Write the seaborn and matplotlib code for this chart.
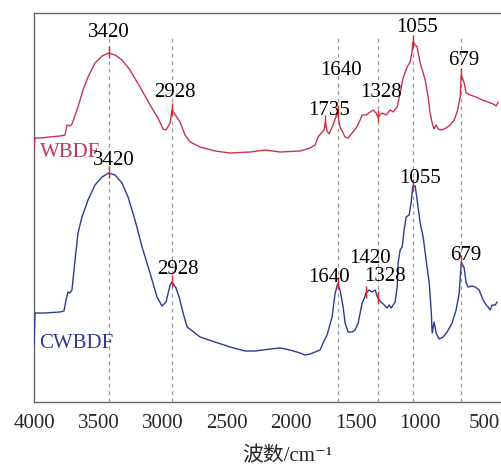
"""
FTIR spectra of WBDF and CWBDF, stacked, with the main absorption peaks marked.
"""

import numpy as np
import pandas as pd
import matplotlib
matplotlib.use('Agg')
import matplotlib.pyplot as plt
import seaborn as sns

# ---- data (wavenumber in cm-1, arbitrary intensity) ----
wbdf_wn = [4000, 3992, 3953, 3876, 3798, 3759, 3743, 3720, 3705, 3658, 3619, 3580,
           3526, 3471, 3420, 3370, 3316, 3254, 3176, 3098, 3036, 2997, 2974, 2942,
           2928, 2896, 2865, 2826, 2787, 2709, 2593, 2476, 2320, 2204, 2087, 1932,
           1854, 1815, 1792, 1768, 1745, 1735, 1722, 1706, 1675, 1640, 1621, 1582,
           1558, 1527, 1496, 1465, 1449, 1418, 1387, 1364, 1341, 1328, 1294, 1263,
           1232, 1208, 1177, 1154, 1131, 1100, 1076, 1062, 1055, 1022, 998, 959,
           936, 921, 905, 890, 874, 858, 835, 796, 765, 734, 711, 687, 679, 656,
           641, 610, 563, 516, 470, 431, 407, 392]
wbdf_int = [252, 264, 264, 265, 266, 267, 277, 276, 278, 295, 312, 325,
            339, 346, 349, 347, 342, 332, 315, 297, 284, 273, 272, 279,
            292, 286, 280, 267, 260, 255, 251, 249, 250, 252, 250, 251,
            254, 257, 265, 269, 272, 280, 271, 268, 277, 290, 275, 265,
            264, 269, 274, 282, 287, 287, 290, 292, 289, 285, 289, 287,
            292, 290, 295, 309, 324, 335, 340, 350, 360, 355, 339, 322,
            305, 289, 279, 273, 277, 273, 272, 274, 277, 282, 290, 305, 327, 319,
            309, 307, 305, 302, 300, 298, 296, 300]

cwbdf_wn = [4000, 3992, 3914, 3798, 3767, 3751, 3736, 3720, 3705, 3681, 3658, 3627,
            3580, 3526, 3471, 3420, 3370, 3316, 3269, 3215, 3160, 3098, 3044, 3005,
            2974, 2942, 2928, 2896, 2872, 2841, 2810, 2709, 2593, 2476, 2359, 2281,
            2165, 2087, 2009, 1932, 1893, 1854, 1815, 1776, 1753, 1722, 1683, 1659,
            1640, 1621, 1597, 1582, 1558, 1527, 1504, 1480, 1465, 1449, 1432, 1420,
            1395, 1372, 1348, 1328, 1302, 1278, 1255, 1240, 1224, 1208, 1193, 1177,
            1170, 1154, 1138, 1123, 1107, 1084, 1069, 1055, 1037, 1022, 998, 975,
            952, 928, 913, 905, 890, 874, 851, 820, 789, 750, 719, 695, 679, 656,
            641, 625, 594, 571, 540, 509, 485, 470, 454, 439, 415, 400]
cwbdf_int = [57, 89, 89, 90, 91, 102, 110, 109, 112, 142, 169, 185,
             202, 217, 225, 229, 227, 219, 205, 182, 155, 129, 105, 96,
             100, 117, 120, 114, 105, 89, 75, 65, 60, 55, 51, 51,
             53, 54, 52, 49, 47, 48, 50, 52, 59, 67, 85, 109,
             118, 112, 95, 79, 70, 70, 72, 79, 89, 99, 104, 109,
             112, 110, 112, 104, 100, 97, 94, 97, 94, 97, 100, 115,
             139, 152, 155, 172, 185, 187, 199, 216, 216, 202, 179, 165,
             142, 119, 92, 69, 80, 69, 63, 65, 70, 79, 92, 109, 140, 134,
             119, 115, 116, 115, 112, 102, 97, 95, 92, 97, 97, 100]

guide_wn = [3420, 2928, 1640, 1328, 1055, 679]

# peak labels: text, x of label centre, y of label baseline
wbdf_peaks = [3420, 2928, 1735, 1640, 1328, 1055, 679]
wbdf_lab_x = [3417, 2904, 1706, 1613, 1302, 1022, 656]
wbdf_lab_y = [365, 305, 287, 327, 305, 370, 337]

cwbdf_peaks = [3420, 2928, 1640, 1420, 1328, 1055, 679]
cwbdf_lab_x = [3378, 2880, 1706, 1387, 1271, 998, 641]
cwbdf_lab_y = [237, 128, 120, 139, 121, 219, 142]

RED = '#c8344f'
BLUE = '#2e3b8f'

sns.set_style('white')
plt.rcParams['font.family'] = ['Liberation Serif', 'Noto Sans CJK SC', 'DejaVu Serif']

fig = plt.figure(figsize=(5.01, 4.67), dpi=100)
ax = fig.add_axes([34 / 501, 65 / 467, 467 / 501, 389 / 467])

# dashed guide lines behind everything
ax.vlines(guide_wn, 0, 366, colors='#9a9a9a', linestyles=(0, (3, 3)), linewidth=0.9, zorder=1)

df = pd.concat([
    pd.DataFrame({'wn': wbdf_wn, 'I': wbdf_int, 'sample': 'WBDF'}),
    pd.DataFrame({'wn': cwbdf_wn, 'I': cwbdf_int, 'sample': 'CWBDF'}),
])
sns.lineplot(data=df, x='wn', y='I', hue='sample', units='sample', estimator=None,
             palette={'WBDF': RED, 'CWBDF': BLUE}, linewidth=1.0, legend=False,
             ax=ax, zorder=3)

# short red markers on the peaks + labels
for peaks, wn, inten, lx, ly in [(wbdf_peaks, wbdf_wn, wbdf_int, wbdf_lab_x, wbdf_lab_y),
                                 (cwbdf_peaks, cwbdf_wn, cwbdf_int, cwbdf_lab_x, cwbdf_lab_y)]:
    for p, x, y in zip(peaks, lx, ly):
        yp = np.interp(p, wn[::-1], inten[::-1])
        ax.vlines(p, yp - 5, yp + 7, colors='#e8202a', linewidth=1.0, zorder=4)
        ax.text(x, y, str(p), ha='center', va='baseline', fontsize=15, color='black', zorder=5)

ax.text(3953, 245, 'WBDF', color=RED, fontsize=15, ha='left', va='baseline')
ax.text(3961, 54, 'CWBDF', color=BLUE, fontsize=15, ha='left', va='baseline')

ax.set_xlim(4000, 370)
ax.set_ylim(0, 389)
ax.set_xticks([4000, 3500, 3000, 2500, 2000, 1500, 1000, 500])
ax.set_yticks([])
ax.tick_params(axis='x', direction='in', length=5, width=0.9, color='#555555',
               labelsize=15, pad=9)
ax.set_xlabel('波数/cm⁻¹', fontsize=15, labelpad=12)
ax.xaxis.set_label_coords(0.542, -0.115)
ax.set_ylabel('')

for side in ['left', 'top', 'bottom']:
    ax.spines[side].set_color('#666666')
    ax.spines[side].set_linewidth(1.0)
ax.spines['right'].set_visible(False)

fig.savefig('out.png', dpi=100)
